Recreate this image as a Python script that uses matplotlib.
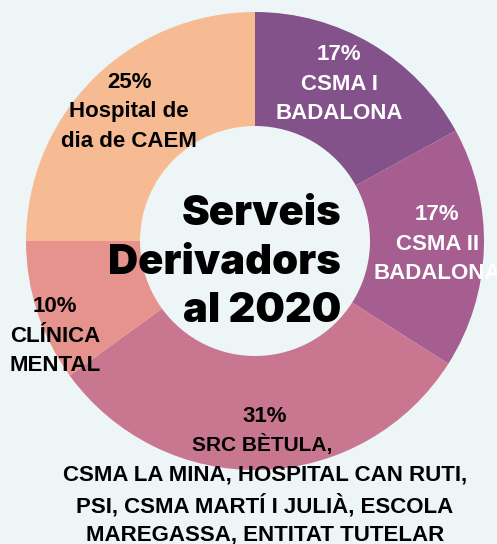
import matplotlib
matplotlib.use("Agg")
import matplotlib.pyplot as plt

# Data
categories = ["CSMA I BADALONA", "CSMA II BADALONA",
              "SRC BÈTULA, CSMA LA MINA, HOSPITAL CAN RUTI, PSI, CSMA MARTÍ I JULIÀ, ESCOLA MAREGASSA, ENTITAT TUTELAR",
              "CLÍNICA MENTAL", "Hospital de dia de CAEM"]
values = [17, 17, 31, 10, 25]
colors = ["#83528a", "#a65e91", "#c97690", "#e6938e", "#f7bb93"]
label_texts = ["17%\nCSMA I\nBADALONA", "17%\nCSMA II\nBADALONA", None,
               "10%\nCLÍNICA\nMENTAL", "25%\nHospital de\ndia de CAEM"]
title_lines = ["Serveis", "Derivadors", "al 2020"]

W, H = 497, 544
bg = "#eef5f6"
fig = plt.figure(figsize=(W / 100, H / 100), dpi=100, facecolor=bg)
ax = fig.add_axes([0, 0, 1, 1])
ax.set_facecolor(bg)

cx, cy_px, R = 255, 241, 229
cy = H - cy_px
ax.pie(values, colors=colors, startangle=90, counterclock=False,
       center=(cx, cy), radius=R,
       wedgeprops=dict(width=R - 115, linewidth=0))
ax.set_xlim(0, W)
ax.set_ylim(0, H)
ax.set_aspect("equal")
ax.axis("off")

def T(x, ypx, s, color="black", size=16, ha="center", ls=1.55, **kw):
    ax.text(x, H - ypx, s, color=color, fontsize=size, ha=ha, va="center",
            fontweight="bold", family="Liberation Sans", linespacing=ls, **kw)

T(339, 84, label_texts[0], color="white")
T(437, 244, label_texts[1], color="white")
T(55, 336, label_texts[3])
T(129, 112, label_texts[4])

# bottom label for the big slice
T(265, 416, "31%", size=16)
T(262, 445, "SRC BÈTULA,", size=15)
T(265, 505, "CSMA LA MINA, HOSPITAL CAN RUTI,\nPSI, CSMA MARTÍ I JULIÀ, ESCOLA\nMAREGASSA, ENTITAT TUTELAR",
  size=16, ls=1.45)

# Center title
for i, line in enumerate(title_lines):
    ax.text(341, H - (225 + 48.5 * i), line, ha="right", va="baseline",
            fontsize=30, fontweight=900, family="Inter", color="black")

fig.savefig("out.png", dpi=100, facecolor=bg)
